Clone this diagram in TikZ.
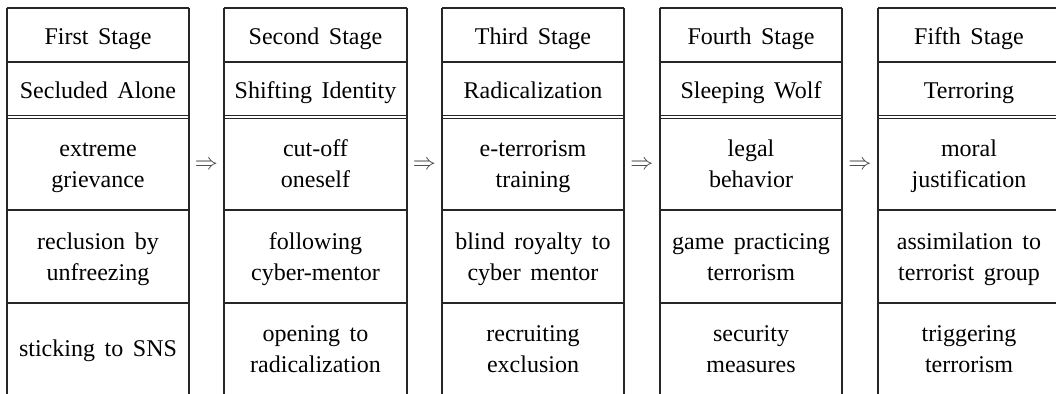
\documentclass[tikz,border=0pt]{standalone}
\usepackage{fontspec}
\setmainfont{Liberation Serif}
\newcommand{\cellfnt}{\fontsize{18}{23.5}\selectfont\spaceskip=0.4em plus 0.1em\relax}
\newcommand{\two}[2]{\strut #1\\\strut #2}
\newcommand{\one}[1]{\strut #1}
\begin{document}
\begin{tikzpicture}[x=0.75pt,y=-0.75pt,
  rule/.style={draw=black!85, line width=0.9pt},
  cell/.style={align=center, font=\cellfnt, inner sep=0pt, text=black},
  arr/.style={font=\fontsize{18}{20}\selectfont, text=black!75, inner sep=0pt}]
\useasboundingbox (0,0) rectangle (1056,393);
% columns
\foreach \l/\r in {7/189, 224/407, 442/624, 660/842, 878/1062}{
  \draw[rule] (\l,8) -- (\r,8);
  \draw[rule] (\l,62) -- (\r,62);
  \draw[rule, line width=1.2pt] (\l,115.5) -- (\r,115.5);
  \draw[rule] (\l,118.6) -- (\r,118.6);
  \draw[rule] (\l,210) -- (\r,210);
  \draw[rule] (\l,303) -- (\r,303);
  \draw[rule] (\l,8) -- (\l,394);
  \draw[rule] (\r,8) -- (\r,394);
}
% column 1
\node[cell] (a1) at (98,38) {\one{First Stage}};
\node[cell] (a2) at (98,92.5) {\one{Secluded Alone}};
\node[cell] (a3) at (98,166) {\two{extreme}{grievance}};
\node[cell] (a4) at (98,258.7) {\two{reclusion by}{unfreezing}};
\node[cell] (a5) at (98,350.7) {\one{sticking to SNS}};
% column 2
\node[cell] (b1) at (315.5,38) {\one{Second Stage}};
\node[cell] (b2) at (315.5,92.5) {\one{Shifting Identity}};
\node[cell] (b3) at (315.5,166) {\two{cut-off}{oneself}};
\node[cell] (b4) at (315.5,258.7) {\two{following}{cyber-mentor}};
\node[cell] (b5) at (315.5,350.7) {\two{opening to}{radicalization}};
% column 3
\node[cell] (c1) at (533,38) {\one{Third Stage}};
\node[cell] (c2) at (533,92.5) {\one{Radicalization}};
\node[cell] (c3) at (533,166) {\two{e-terrorism}{training}};
\node[cell] (c4) at (533,258.7) {\two{blind royalty to}{cyber mentor}};
\node[cell] (c5) at (533,350.7) {\two{recruiting}{exclusion}};
% column 4
\node[cell] (d1) at (751,38) {\one{Fourth Stage}};
\node[cell] (d2) at (751,92.5) {\one{Sleeping Wolf}};
\node[cell] (d3) at (751,166) {\two{legal}{behavior}};
\node[cell] (d4) at (751,258.7) {\two{game practicing}{terrorism}};
\node[cell] (d5) at (751,350.7) {\two{security}{measures}};
% column 5
\node[cell] (e1) at (969,38) {\one{Fifth Stage}};
\node[cell] (e2) at (969,92.5) {\one{Terroring}};
\node[cell] (e3) at (969,166) {\two{moral}{justification}};
\node[cell] (e4) at (969,258.7) {\two{assimilation to}{terrorist group}};
\node[cell] (e5) at (969,350.7) {\two{triggering}{terrorism}};
% arrows
\node[arr] (ab) at (206.5,165) {$\Rightarrow$};
\node[arr] (bc) at (424.5,165) {$\Rightarrow$};
\node[arr] (cd) at (642,165) {$\Rightarrow$};
\node[arr] (de) at (860,165) {$\Rightarrow$};
\end{tikzpicture}
\end{document}
